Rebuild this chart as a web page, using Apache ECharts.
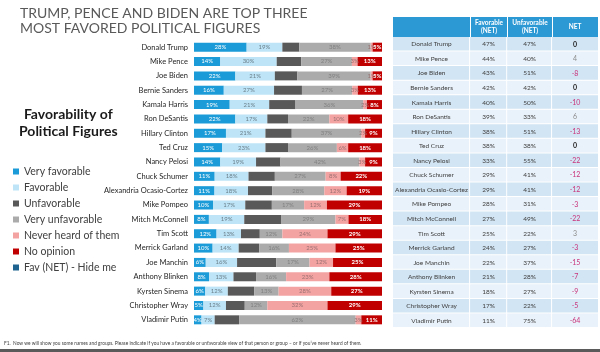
<!DOCTYPE html>
<html>
<head>
<meta charset="utf-8">
<script src="https://cdn.jsdelivr.net/npm/echarts@6/dist/echarts.min.js"></script>
<style>
html, body { margin: 0; padding: 0; background: #fff; }
#main { width: 600px; height: 352px; }
</style>
</head>
<body>
<div id="main"></div>
<script>
// people, top to bottom
var names = ['Donald Trump', 'Mike Pence', 'Joe Biden', 'Bernie Sanders', 'Kamala Harris', 'Ron DeSantis',
  'Hillary Clinton', 'Ted Cruz', 'Nancy Pelosi', 'Chuck Schumer', 'Alexandria Ocasio-Cortez', 'Mike Pompeo',
  'Mitch McConnell', 'Tim Scott', 'Merrick Garland', 'Joe Manchin', 'Anthony Blinken', 'Kyrsten Sinema',
  'Christopher Wray', 'Vladimir Putin'];

// bar segments (%)
var veryFav    = [28, 14, 22, 16, 19, 22, 17, 15, 14, 11, 11, 10,  8, 12, 10,  6,  8,  6,  5,  4];
var fav        = [19, 30, 21, 27, 21, 17, 21, 23, 19, 18, 18, 17, 19, 13, 14, 16, 13, 12, 12,  7];
var unfav      = [ 9, 13, 12, 15, 14, 11, 14, 12, 13, 14, 13, 14, 20, 10, 11, 20, 12, 14, 10, 13];
var veryUnfav  = [38, 27, 39, 27, 36, 22, 37, 26, 42, 27, 28, 17, 29, 12, 16, 17, 16, 13, 12, 62];
var neverHeard = [ 1,  3,  1,  3,  2, 10,  2,  6,  3,  8, 12, 12,  7, 24, 25, 12, 23, 28, 32,  3];
var noOpinion  = [ 5, 13,  5, 13,  8, 18,  9, 18,  9, 22, 19, 29, 18, 29, 25, 25, 28, 27, 29, 11];

// table on the right
var favNet   = [47, 44, 43, 42, 40, 39, 38, 38, 33, 29, 29, 28, 27, 25, 24, 22, 21, 18, 17, 11];
var unfavNet = [47, 40, 51, 42, 50, 33, 51, 38, 55, 41, 41, 31, 49, 22, 27, 37, 28, 27, 22, 75];
var netScore = [0, 4, -8, 0, -10, 6, -13, 0, -22, -12, -12, -3, -22, 3, -3, -15, -7, -9, -5, -64];

var chart = echarts.init(document.getElementById('main'));
var font = 'Lato, "Open Sans", sans-serif';

// every bar is shown as share of its row (100% stacked)
var parts = [veryFav, fav, unfav, veryUnfav, neverHeard, noOpinion];
var totals = names.map(function (n, i) {
  var s = 0;
  parts.forEach(function (p) { s += p[i]; });
  return s;
});

function seg(name, arr, color, labelColor, showLabel, bold) {
  return {
    name: name,
    type: 'bar',
    stack: 'fav',
    xAxisIndex: 0,
    yAxisIndex: 0,
    barWidth: 9,
    itemStyle: { color: color },
    label: {
      show: showLabel,
      position: 'inside',
      color: labelColor,
      fontSize: 6,
      fontFamily: font,
      fontWeight: bold ? 'bold' : 'normal',
      formatter: function (p) { return p.data.raw + '%'; }
    },
    data: arr.map(function (v, i) { return { value: v / totals[i] * 100, raw: v }; })
  };
}

var cols = [0, 0.376, 0.557, 0.776, 1];

var option = {
  animation: false,
  textStyle: { fontFamily: font },
  title: {
    text: 'TRUMP, PENCE AND BIDEN ARE TOP THREE\nMOST FAVORED POLITICAL FIGURES',
    left: 15,
    top: 1,
    textStyle: { fontSize: 14, fontWeight: 'normal', color: '#595959', lineHeight: 15, fontFamily: font }
  },
  legend: {
    orient: 'vertical',
    left: 8,
    top: 161,
    itemWidth: 6,
    itemHeight: 6,
    itemGap: 5,
    icon: 'rect',
    textStyle: { fontSize: 10.5, color: '#404040', fontFamily: font },
    data: ['Very favorable', 'Favorable', 'Unfavorable', 'Very unfavorable', 'Never heard of them', 'No opinion', 'Fav (NET) - Hide me']
  },
  grid: [
    { left: 194, right: 218, top: 40, bottom: 25 },
    { left: 393, right: 2, top: 37, bottom: 24 }
  ],
  xAxis: [
    { type: 'value', min: 0, max: 100, show: false, gridIndex: 0 },
    { type: 'value', min: 0, max: 1, show: false, gridIndex: 1 }
  ],
  yAxis: [
    {
      type: 'category', data: names, inverse: true, gridIndex: 0,
      axisLine: { show: false }, axisTick: { show: false },
      axisLabel: { fontSize: 7.5, color: '#262626', margin: 6, fontFamily: font }
    },
    { type: 'category', data: names, inverse: true, gridIndex: 1, show: false }
  ],
  graphic: [
    {
      type: 'text', left: 19, top: 106,
      style: { text: 'Favorability of\nPolitical Figures', fontSize: 14, fontWeight: 'bold', fill: '#1a1a1a',
        fontFamily: font, textAlign: 'center', lineHeight: 17 }
    },
    { type: 'rect', left: 393, top: 17, shape: { width: 205, height: 20 }, style: { fill: '#2C98D4' } },
    { type: 'rect', left: 470, top: 17, shape: { width: 1, height: 20 }, style: { fill: '#fff' } },
    { type: 'rect', left: 507, top: 17, shape: { width: 1, height: 20 }, style: { fill: '#fff' } },
    { type: 'rect', left: 552, top: 17, shape: { width: 1, height: 20 }, style: { fill: '#fff' } },
    {
      type: 'text', x: 489, y: 27,
      style: { text: 'Favorable\n(NET)', fontSize: 6.5, fontWeight: 'bold', fill: '#fff', fontFamily: font,
        align: 'center', verticalAlign: 'middle', lineHeight: 8 }
    },
    {
      type: 'text', x: 530, y: 27,
      style: { text: 'Unfavorable\n(NET)', fontSize: 6.5, fontWeight: 'bold', fill: '#fff', fontFamily: font,
        align: 'center', verticalAlign: 'middle', lineHeight: 8 }
    },
    {
      type: 'text', x: 575, y: 27,
      style: { text: 'NET', fontSize: 6.5, fontWeight: 'bold', fill: '#fff', fontFamily: font,
        align: 'center', verticalAlign: 'middle' }
    },
    {
      type: 'text', left: 4, top: 341,
      style: { text: 'F1.  Now we will show you some names and groups. Please indicate if you have a favorable or unfavorable view of that person or group \u2013 or if you\u2019ve never heard of them.',
        fontSize: 4.8, fill: '#404040', fontFamily: font }
    },
    { type: 'rect', left: 0, top: 349, shape: { width: 600, height: 3 }, style: { fill: '#5a5a5a' } }
  ],
  series: [
    seg('Very favorable', veryFav, '#1B9BD7', '#fff', true, false),
    seg('Favorable', fav, '#BDE4F7', '#6b7f8a', true, false),
    seg('Unfavorable', unfav, '#595959', '#595959', false, false),
    seg('Very unfavorable', veryUnfav, '#ABABAB', '#808080', true, false),
    seg('Never heard of them', neverHeard, '#F4A3A3', '#9a7070', true, false),
    seg('No opinion', noOpinion, '#C00000', '#fff', true, true),
    { name: 'Fav (NET) - Hide me', type: 'bar', stack: 'fav', xAxisIndex: 0, yAxisIndex: 0,
      itemStyle: { color: '#1F6391' }, data: [] },
    {
      type: 'custom',
      xAxisIndex: 1,
      yAxisIndex: 1,
      data: names.map(function (n, i) { return [0, i]; }),
      renderItem: function (params, api) {
        var i = api.value(1);
        var c = api.coord([0, i]);
        var h = api.size([0, 1])[1];
        var cs = params.coordSys;
        var top = c[1] - h / 2;
        var bg = i % 2 === 0 ? '#D2E5F4' : '#E9F2FA';
        var n = netScore[i];
        var netColor = n === 0 ? '#262626' : (n > 0 ? '#8C8C8C' : '#C8327A');
        var texts = [names[i], favNet[i] + '%', unfavNet[i] + '%', String(n)];
        var colors = ['#404040', '#404040', '#404040', netColor];
        var children = [];
        for (var k = 0; k < 4; k++) {
          var x0 = cs.x + cols[k] * cs.width;
          var x1 = cs.x + cols[k + 1] * cs.width;
          children.push({
            type: 'rect',
            shape: { x: x0, y: top, width: x1 - x0 - (k < 3 ? 1 : 0), height: h - 1 },
            style: { fill: bg }
          });
          children.push({
            type: 'text',
            style: {
              x: (x0 + x1) / 2, y: c[1], text: texts[k], fill: colors[k],
              fontSize: k === 3 ? 7 : 6.5, fontWeight: (k === 3 && n === 0) ? 'bold' : 'normal',
              fontFamily: font, align: 'center', verticalAlign: 'middle'
            }
          });
        }
        return { type: 'group', children: children };
      }
    }
  ]
};

chart.setOption(option);
</script>
</body>
</html>
